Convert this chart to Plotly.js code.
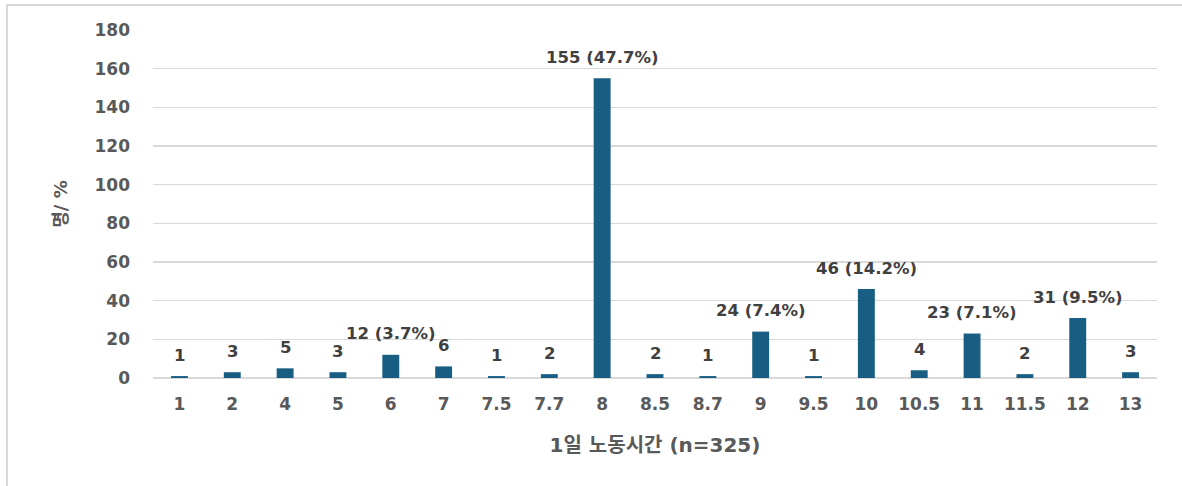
<!DOCTYPE html>
<html>
<head>
<meta charset="utf-8">
<script src="https://cdn.plot.ly/plotly-3.0.1.min.js"></script>
<style>
  html, body { margin: 0; padding: 0; background: #ffffff; }
  #wrap { position: relative; width: 1182px; height: 486px; }
  #chart { width: 1182px; height: 486px; }
  #frame {
    position: absolute; left: 6px; top: 4px; width: 1200px; height: 500px;
    border-left: 2px solid #d9d9d9; border-top: 2px solid #d9d9d9;
    pointer-events: none;
  }
</style>
</head>
<body>
<div id="wrap">
  <div id="chart"></div>
  <div id="frame"></div>
</div>
<script>
// Daily working hours (categories) and respondent counts
const hours = ['1', '2', '4', '5', '6', '7', '7.5', '7.7', '8', '8.5', '8.7', '9', '9.5', '10', '10.5', '11', '11.5', '12', '13'];
const counts = [1, 3, 5, 3, 12, 6, 1, 2, 155, 2, 1, 24, 1, 46, 4, 23, 2, 31, 3];
// Which bars also show their share of the total
const showShare = [false, false, false, false, true, false, false, false, true, false, false, true, false, true, false, true, false, true, false];
const total = 325;

const yTicks = [0, 20, 40, 60, 80, 100, 120, 140, 160, 180];

const FONT = '"DejaVu Sans", Verdana, "Noto Sans CJK KR", sans-serif';

const labels = counts.map((c, i) =>
  showShare[i] ? c + ' (' + (c / total * 100).toFixed(1) + '%)' : String(c));

// Value labels sit above each bar; x is the category's position on the axis
const annotations = hours.map((h, i) => ({
  x: i,
  y: counts[i],
  xref: 'x',
  yref: 'y',
  text: '<b>' + labels[i] + '</b>',
  showarrow: false,
  yanchor: 'middle',
  xanchor: 'center',
  yshift: 21,
  font: { family: FONT, size: 16.5, color: '#404040' }
}));

const trace = {
  type: 'bar',
  x: hours,
  y: counts,
  marker: { color: '#175e82' },
  hoverinfo: 'x+y'
};

const layout = {
  width: 1182,
  height: 486,
  margin: { l: 153, r: 25, t: 30, b: 108 },
  paper_bgcolor: '#ffffff',
  plot_bgcolor: '#ffffff',
  bargap: 0.68,
  showlegend: false,
  font: { family: FONT, color: '#595959' },
  xaxis: {
    type: 'category',
    tickfont: { family: FONT, size: 17, color: '#595959', weight: 'bold' },
    ticks: '',
    ticklabelstandoff: 14,
    showgrid: false,
    showline: false,
    zeroline: false,
    title: {
      text: '<b>1일 노동시간 (n=325)</b>',
      font: { family: FONT, size: 20, color: '#595959' },
      standoff: 24
    }
  },
  yaxis: {
    range: [0, 180],
    tickvals: yTicks,
    ticktext: yTicks.map(String),
    tickfont: { family: FONT, size: 17, color: '#595959', weight: 'bold' },
    ticks: '',
    ticklabelstandoff: 22,
    showgrid: true,
    gridcolor: '#d9d9d9',
    gridwidth: 1.5,
    zeroline: true,
    zerolinecolor: '#d9d9d9',
    zerolinewidth: 1.5,
    showline: false,
    title: {
      text: '<b>명/ %</b>',
      font: { family: FONT, size: 18, color: '#595959' },
      standoff: 22
    }
  },
  annotations: annotations
};

Plotly.newPlot('chart', [trace], layout, { displayModeBar: false, staticPlot: true });
</script>
</body>
</html>
